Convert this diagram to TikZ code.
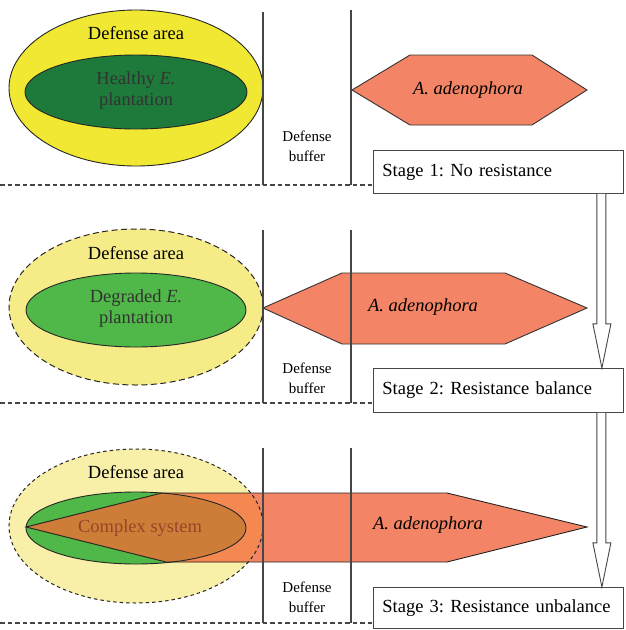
\documentclass[tikz,border=0pt]{standalone}
\usepackage{fontspec}
\setmainfont{Liberation Serif}
\frenchspacing
\definecolor{yel1}{RGB}{240,232,50}
\definecolor{yel2}{RGB}{246,236,135}
\definecolor{yel3}{RGB}{248,240,168}
\definecolor{dgreen}{RGB}{30,122,58}
\definecolor{mgreen}{RGB}{80,184,72}
\definecolor{salmon}{RGB}{243,133,102}
\definecolor{overorange}{RGB}{245,135,80}
\definecolor{overbrown}{RGB}{205,125,55}
\definecolor{cstext}{RGB}{150,70,40}
\definecolor{linegray}{RGB}{70,70,70}
\begin{document}
\begin{tikzpicture}[x=1pt,y=-1pt,
  lbl/.style={font=\rmfamily\fontsize{18.5}{21}\selectfont, align=center, inner sep=0pt},
  buf/.style={font=\rmfamily\fontsize{15}{20}\selectfont, align=center, inner sep=0pt},
  hexlbl/.style={font=\rmfamily\fontsize{18.5}{21}\selectfont\itshape, inner sep=0pt},
  stagebox/.style={draw=linegray, line width=0.9pt, fill=white, anchor=north west,
    minimum width=250pt, text width=232pt, align=left, inner sep=0pt, inner xsep=9pt,
    font=\rmfamily\fontsize{18.5}{21}\selectfont},
  vline/.style={draw=linegray, line width=1.1pt},
  sep/.style={draw=linegray, line width=1.1pt, dash pattern=on 4.5pt off 3pt},
  hexfill/.style={fill=salmon, draw=black!80, line width=0.9pt},
  hollow/.style={draw=linegray, line width=0.9pt, fill=white}
]
\useasboundingbox (0,0) rectangle (625,630);

% ---------------- Panel 1 ----------------
\draw[fill=yel1, draw=black!85, line width=0.9pt] (136,88) ellipse [x radius=127, y radius=78];
\draw[fill=dgreen, draw=black!85, line width=0.9pt] (136,92) ellipse [x radius=111, y radius=37];
\node[lbl] (da1) at (136,33) {Defense area};
\node[lbl, text=black!80] (hp1) at (136,91) {Healthy \textit{E.}\\plantation};
\coordinate (h1a) at (352,90); \coordinate (h1b) at (410,55); \coordinate (h1c) at (532,55);
\coordinate (h1d) at (587,90); \coordinate (h1e) at (532,125); \coordinate (h1f) at (410,125);
\draw[hexfill] (h1a) -- (h1b) -- (h1c) -- (h1d) -- (h1e) -- (h1f) -- cycle;
\node[hexlbl] (ad1) at (468,90) {A. adenophora};
\draw[vline] (263,12) -- (263,185);
\draw[vline] (351,10) -- (351,185);
\node[buf] (db1) at (307,146) {Defense\\buffer};
\draw[sep] (0,185) -- (373,185);
\node[stagebox, minimum height=43pt] (s1) at (373,150) {Stage 1: No resistance};

% ---------------- Panel 2 ----------------
\draw[fill=yel2, draw=black!85, line width=1pt, dash pattern=on 6pt off 3.5pt] (136,307) ellipse [x radius=127, y radius=78];
\draw[fill=mgreen, draw=black!85, line width=0.9pt] (136,310) ellipse [x radius=110, y radius=37];
\node[lbl] (da2) at (136,253) {Defense area};
\node[lbl, text=black!80] (hp2) at (136,309) {Degraded \textit{E.}\\plantation};
\coordinate (h2a) at (263,308); \coordinate (h2b) at (342,273); \coordinate (h2c) at (505,273);
\coordinate (h2d) at (587,308); \coordinate (h2e) at (505,344); \coordinate (h2f) at (342,344);
\draw[hexfill] (h2a) -- (h2b) -- (h2c) -- (h2d) -- (h2e) -- (h2f) -- cycle;
\node[hexlbl] (ad2) at (423,307) {A. adenophora};
\draw[vline] (263,230) -- (263,403);
\draw[vline] (351,230) -- (351,403);
\node[buf] (db2) at (307,378) {Defense\\buffer};
\draw[sep] (0,403) -- (373,403);
\node[stagebox, minimum height=44pt] (s2) at (373,368) {Stage 2: Resistance balance};

% ---------------- Panel 3 ----------------
\fill[yel3] (136,526) ellipse [x radius=127, y radius=77];
\fill[mgreen] (136,528) ellipse [x radius=110, y radius=36];
\coordinate (h3a) at (26,527); \coordinate (h3b) at (162,493); \coordinate (h3c) at (447,493);
\coordinate (h3d) at (587,527); \coordinate (h3e) at (447,562); \coordinate (h3f) at (166,562);
\fill[salmon] (h3a) -- (h3b) -- (h3c) -- (h3d) -- (h3e) -- (h3f) -- cycle;
\begin{scope}
  \clip (136,526) ellipse [x radius=127, y radius=77];
  \fill[overorange] (h3a) -- (h3b) -- (h3c) -- (h3d) -- (h3e) -- (h3f) -- cycle;
\end{scope}
\begin{scope}
  \clip (136,528) ellipse [x radius=110, y radius=36];
  \fill[overbrown] (h3a) -- (h3b) -- (h3c) -- (h3d) -- (h3e) -- (h3f) -- cycle;
\end{scope}
\draw[draw=black!85, line width=1pt, dash pattern=on 3.5pt off 3pt] (136,526) ellipse [x radius=127, y radius=77];
\draw[draw=black!85, line width=0.9pt] (136,528) ellipse [x radius=110, y radius=36];
\draw[draw=black!85, line width=0.9pt] (h3a) -- (h3b) -- (h3c) -- (h3d) -- (h3e) -- (h3f) -- cycle;
\node[lbl] (da3) at (136,472) {Defense area};
\node[lbl, text=cstext] (cs3) at (140,528) {Complex system};
\node[hexlbl] (ad3) at (428,525) {A. adenophora};
\draw[vline] (263,448) -- (263,623);
\draw[vline] (351,448) -- (351,623);
\node[buf] (db3) at (307,597) {Defense\\buffer};
\draw[sep] (0,623) -- (373,623);
\node[stagebox, minimum height=41pt] (s3) at (373,587) {Stage 3: Resistance unbalance};

% ---------------- Hollow arrows ----------------
\draw[hollow] ([xshift=-27pt]s1.south east) -- ([xshift=-27pt,yshift=-130pt]s1.south east)
  -- ([xshift=-31pt,yshift=-130pt]s1.south east) -- ([xshift=-22pt]s2.north east)
  -- ([xshift=-13pt,yshift=-130pt]s1.south east) -- ([xshift=-18pt,yshift=-130pt]s1.south east)
  -- ([xshift=-18pt]s1.south east);
\draw[hollow] ([xshift=-27pt]s2.south east) -- ([xshift=-27pt,yshift=-130pt]s2.south east)
  -- ([xshift=-31pt,yshift=-130pt]s2.south east) -- ([xshift=-22pt]s3.north east)
  -- ([xshift=-13pt,yshift=-130pt]s2.south east) -- ([xshift=-18pt,yshift=-130pt]s2.south east)
  -- ([xshift=-18pt]s2.south east);
\end{tikzpicture}
\end{document}
